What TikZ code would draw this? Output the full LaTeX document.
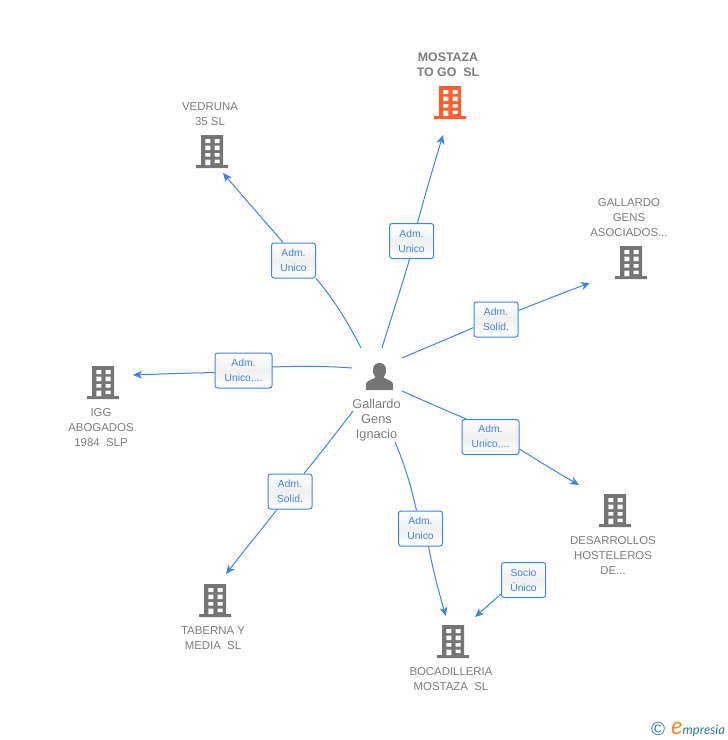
\documentclass[tikz,border=0pt]{standalone}
\usepackage{fontspec}
\setmainfont{Liberation Sans}
\newfontfamily\logofont{Lato}
\usetikzlibrary{arrows.meta,shadings}
\definecolor{linkblue}{HTML}{3F84E0}
\definecolor{iconsgray}{HTML}{757575}
\definecolor{labelgray}{HTML}{7C7C7C}
\definecolor{redbuild}{HTML}{FF5F2E}
\definecolor{logoteal}{HTML}{2F7C93}
\definecolor{logoorange}{HTML}{F08A24}
\tikzset{
  x=1pt,y=-1pt,
  conn/.style={draw=linkblue,line width=1pt},
  tip/.style={conn,-{Stealth[length=9pt,width=8pt,inset=2.5pt]}},
  rel/.style={rounded corners=2.5pt,
    preaction={draw=none,top color=white,bottom color=white,middle color=white!94!black},
    draw=linkblue,line width=1pt,
    text=linkblue,font=\fontsize{10.3}{15}\selectfont,align=center,inner sep=0pt,minimum height=35pt},
  relS/.style={rel,minimum width=44pt},
  relL/.style={rel,minimum width=57pt},
  lab/.style={text=labelgray,font=\fontsize{11.4}{15}\selectfont,align=center,inner sep=0pt},
  pers/.style={lab,font=\fontsize{12.8}{15}\selectfont},
  bldg/.pic={
    \fill[pic actions] (-11,-16) rectangle (11,14) (-16,14) -- (16,14) -- (16,17) -- (-16,17) -- cycle;
    \fill[white] (-6.7,-12) rectangle (-1.7,-8) (2.7,-12) rectangle (7.7,-8)
      (-6.7,-5.5) rectangle (-1.7,-1) (2.7,-5.5) rectangle (7.7,-1)
      (-6.7,2) rectangle (-1.7,5.5) (2.7,2) rectangle (7.7,5.5)
      (-6.7,8.5) rectangle (-1.7,14) (2.7,8.5) rectangle (7.7,12);
  }
}
\begin{document}
\begin{tikzpicture}
\useasboundingbox (0,0) rectangle (728,740);
% buildings
\coordinate (bM) at (450,102);
\coordinate (bV) at (212,151);
\coordinate (bG) at (631,262);
\coordinate (bI) at (103,382);
\coordinate (bD) at (615,510);
\coordinate (bB) at (453,641);
\coordinate (bT) at (215,600);
\pic[fill=redbuild] at (bM) {bldg};
\pic[fill=iconsgray] at (bV) {bldg};
\pic[fill=iconsgray] at (bG) {bldg};
\pic[fill=iconsgray] at (bI) {bldg};
\pic[fill=iconsgray] at (bD) {bldg};
\pic[fill=iconsgray] at (bB) {bldg};
\pic[fill=iconsgray] at (bT) {bldg};
% person
\fill[iconsgray] (366,390) -- (366,384) .. controls (366,381) and (371,380) .. (375.5,377.5)
  .. controls (373.5,375) and (372.5,372) .. (373,369) .. controls (373.5,365) and (376,363) .. (379.5,363)
  .. controls (383,363) and (385.5,365) .. (386,369) .. controls (386.5,372) and (385.5,375) .. (383.5,377.5)
  .. controls (388,380) and (393,381) .. (393,384) -- (393,390) -- cycle;
% texts
\node[lab,font=\bfseries\fontsize{12.4}{15}\selectfont] (tM) at (448,65) {MOSTAZA\\TO GO\ \ SL};
\node[lab] (tV) at (210,114.5) {VEDRUNA\\35 SL};
\node[lab] (tG) at (629,218) {GALLARDO\\GENS\\ASOCIADOS...};
\node[lab] (tI) at (101,428) {IGG\\ABOGADOS\\1984\ \ SLP};
\node[lab] (tD) at (613,556) {DESARROLLOS\\HOSTELEROS\\DE...};
\node[lab] (tB) at (451,679.5) {BOCADILLERIA\\MOSTAZA\ \ SL};
\node[lab] (tT) at (213,638.5) {TABERNA Y\\MEDIA\ \ SL};
\node[pers] (tP) at (376.5,420) {Gallardo\\Gens\\Ignacio};
% relation labels
\node[relS] (r1) at (293.5,260.5) {Adm.\\Unico};
\node[relS] (r2) at (411.5,241) {Adm.\\Unico};
\node[relS] (r3) at (496,319.5) {Adm.\\Solid.};
\node[relL] (r4) at (243.5,370.5) {Adm.\\Unico,...};
\node[relL] (r5) at (490.5,437) {Adm.\\Unico,...};
\node[relS] (r6) at (290,491.5) {Adm.\\Solid.};
\node[relS] (r7) at (420.5,528.5) {Adm.\\Unico};
\node[relS] (r8) at (523.5,580) {Socio\\Único};
% connector ends
\coordinate (s1) at (361,348);
\coordinate (s2) at (382,348);
\coordinate (s3) at (402,358);
\coordinate (s4) at (352,368);
\coordinate (s5) at (402,391);
\coordinate (s6) at (353,411);
\coordinate (s7) at (395,442);
\coordinate (e1) at (223,173);
\coordinate (e2) at (443,135);
\coordinate (e3) at (590,283);
\coordinate (e4) at (133,375);
\coordinate (e5) at (579,485);
\coordinate (e6) at (226,574);
\coordinate (e7) at (446,616);
\coordinate (e8) at (475,617);
% connectors
\draw[conn] (s1) .. controls (348,322) and (332,297) .. (r1.south east);
\draw[tip] (r1.north west) ++(12,0) .. controls (262,218) and (240,193) .. (e1);
\draw[conn] (s2) .. controls (391,318) and (401,289) .. ([xshift=-2pt]r2.south);
\draw[tip] ([xshift=6pt]r2.north) .. controls (425,195) and (433,168) .. (e2);
\draw[conn] (s3) .. controls (425,348) and (450,338) .. ([yshift=-8pt]r3.west);
\draw[tip] ([yshift=9pt]r3.east) .. controls (540,302) and (565,292) .. (e3);
\draw[conn] (s4) .. controls (325,366) and (300,366) .. ([yshift=3.5pt]r4.east);
\draw[tip] ([yshift=-2pt]r4.west) .. controls (190,373) and (160,374) .. (e4);
\draw[conn] (s5) .. controls (420,399) and (440,408) .. ([xshift=-24pt]r5.north);
\draw[tip] ([yshift=6pt]r5.south east) .. controls (540,462) and (560,474) .. (e5);
\draw[conn] (s6) .. controls (337,432) and (320,454) .. ([xshift=14pt]r6.north);
\draw[tip] ([xshift=-13pt]r6.south) .. controls (261,530) and (243,552) .. (e6);
\draw[conn] (s7) .. controls (405,465) and (412,490) .. ([xshift=-4pt]r7.north);
\draw[tip] ([xshift=8pt]r7.south) .. controls (432,565) and (438,590) .. (e7);
\draw[tip] ([yshift=4pt]r8.south west) -- (e8);
% logo
\node[text=logoteal,font=\fontsize{19}{19}\selectfont,inner sep=0pt] (logoC) at (658,729) {©};
\node[anchor=base west,inner sep=0pt,font=\logofont\itshape\fontsize{13}{13}\selectfont,text=logoteal] (logoT) at (671,734) {{\color{logoorange}\fontsize{24}{24}\selectfont e}mpresia};
\end{tikzpicture}
\end{document}
